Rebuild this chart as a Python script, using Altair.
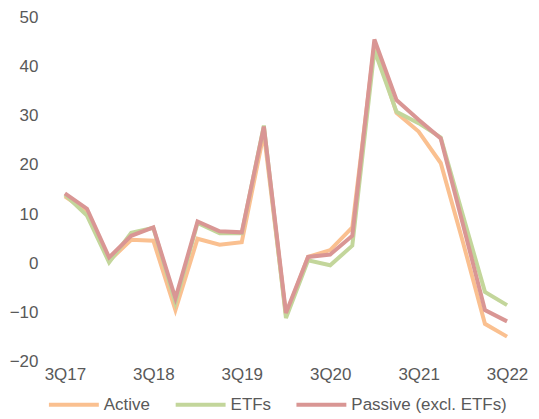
import altair as alt
import pandas as pd

quarters = ["3Q17", "4Q17", "1Q18", "2Q18", "3Q18", "4Q18", "1Q19", "2Q19", "3Q19", "4Q19",
            "1Q20", "2Q20", "3Q20", "4Q20", "1Q21", "2Q21", "3Q21", "4Q21", "1Q22", "2Q22", "3Q22"]
label_quarters = ["3Q17", "3Q18", "3Q19", "3Q20", "3Q21", "3Q22"]

active = [13.6, 10.5, 0.5, 4.8, 4.6, -9.5, 5.0, 3.8, 4.3, 26.5, -10.5, 1.3, 2.7, 7.3, 44.5,
          30.6, 26.8, 20.4, 4.4, -12.3, -14.9]
etfs = [14.0, 9.7, 0.2, 6.2, 7.2, -8.0, 8.2, 6.1, 6.1, 28.0, -11.1, 0.6, -0.4, 3.6, 43.3,
        30.8, 28.5, 25.6, 9.8, -5.8, -8.5]
passive = [14.2, 11.1, 1.2, 5.6, 7.3, -7.1, 8.5, 6.5, 6.3, 27.8, -10.1, 1.3, 1.8, 5.6, 45.5,
           33.2, 29.2, 25.4, 8.0, -9.5, -11.8]

series_names = ["Active", "ETFs", "Passive (excl. ETFs)"]
series_colors = ["#FAC090", "#C3D69B", "#D99694"]

rows = []
for name, vals in zip(series_names, [active, etfs, passive]):
    for q, v in zip(quarters, vals):
        rows.append({"quarter": q, "value": v, "series": name, "order": series_names.index(name)})
df = pd.DataFrame(rows)

FONT = "Liberation Sans"
GREY = "#595959"

chart = alt.Chart(df).mark_line(strokeWidth=4, strokeJoin="miter").encode(
    x=alt.X("quarter:O", sort=quarters, title=None,
            scale=alt.Scale(padding=0),
            axis=alt.Axis(values=label_quarters, labelAngle=0, ticks=False, domain=False,
                          grid=False, labelFont=FONT, labelFontSize=17, labelColor=GREY,
                          labelPadding=5)),
    y=alt.Y("value:Q", title=None,
            scale=alt.Scale(domain=[-20, 50], nice=False, zero=False),
            axis=alt.Axis(values=list(range(-20, 51, 10)), ticks=False, domain=False,
                          grid=False, labelFont=FONT, labelFontSize=17, labelColor=GREY,
                          labelPadding=27)),
    color=alt.Color("series:N", sort=series_names,
                    scale=alt.Scale(domain=series_names, range=series_colors),
                    legend=alt.Legend(title=None, orient="none", direction="horizontal",
                                      legendX=-18, legendY=361,
                                      symbolType="stroke", symbolSize=2500,
                                      symbolStrokeWidth=4, labelFont=FONT,
                                      labelFontSize=17, labelColor=GREY,
                                      labelOffset=3, columnPadding=17)),
    order=alt.Order("order:Q"),
    detail="series:N",
).properties(
    width=443,
    height=345,
    autosize=alt.AutoSizeParams(type="none"),
    padding={"left": 57, "top": 9, "right": 24, "bottom": 55},
).configure_view(stroke=None)

chart.save("out.html", embed_options={"renderer": "svg", "actions": False})
